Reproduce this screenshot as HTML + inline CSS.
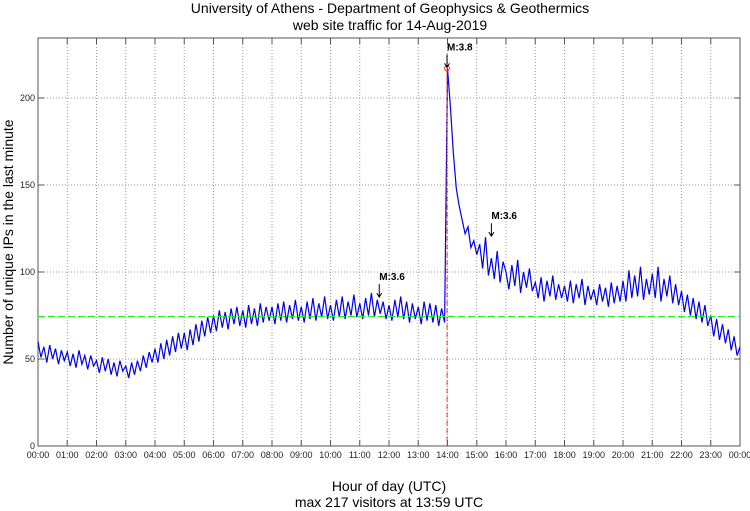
<!DOCTYPE html>
<html><head><meta charset="utf-8"><style>
body{margin:0;background:#fff;}
svg{display:block;font-family:"Liberation Sans",sans-serif;}
</style></head><body>
<svg id="chart" width="750" height="511">
<text x="390" y="13" font-size="14" text-anchor="middle">University of Athens - Department of Geophysics &amp; Geothermics</text>
<text x="390" y="30" font-size="14" text-anchor="middle">web site traffic for 14-Aug-2019</text>
<text transform="translate(13,242) rotate(-90)" font-size="14" text-anchor="middle">Number of unique IPs in the last minute</text>
<text x="389" y="491" font-size="14" text-anchor="middle">Hour of day (UTC)</text>
<text x="389" y="507" font-size="14" text-anchor="middle">max 217 visitors at 13:59 UTC</text>
<g id="grid"></g><g id="series"></g><g id="annot"></g>
</svg>
<script>
const hourLabels=["00:00","01:00","02:00","03:00","04:00","05:00","06:00","07:00","08:00","09:00","10:00","11:00","12:00","13:00","14:00","15:00","16:00","17:00","18:00","19:00","20:00","21:00","22:00","23:00","00:00"];
const yTicks=[0,50,100,150,200];
const meanLevel=75;
const peakMinute=839;
const peakValue=217;
const traffic=[
60,51,57,48,58,50,56,47,55,49,
54,46,53,45,55,47,52,44,52,46,
49,42,51,43,50,41,48,40,49,43,
46,39,48,41,49,43,52,45,54,48,
56,48,59,50,61,52,63,54,65,56,
65,55,67,58,70,60,72,63,74,65,
75,66,78,68,77,67,79,70,80,69,
78,68,81,70,79,69,82,71,80,72,
80,70,82,72,83,71,81,73,84,72,
80,71,83,73,85,72,82,74,86,73,
81,72,84,74,86,73,83,75,87,74,
82,73,85,75,88,74,84,76,83,73,
81,72,84,74,86,73,83,71,82,73,
80,70,83,72,82,71,81,69,79,71,
217,195,168,148,138,130,122,126,114,118,
110,116,102,120,98,108,96,112,94,106,
100,90,104,92,107,88,100,91,102,89,
94,85,97,83,95,86,98,84,93,85,
92,83,95,82,93,85,96,81,92,84,
90,81,93,83,91,80,94,82,92,83,
95,83,101,85,98,86,103,84,96,87,
99,85,103,83,96,86,98,82,93,81,
89,77,87,75,85,73,83,71,81,69,
75,63,73,61,70,59,67,55,63,52,
57];
const annotations=[{label:"M:3.8",minute:839,value:217},{label:"M:3.6",minute:700,value:85},{label:"M:3.6",minute:930,value:120}];
const L=38,R=740,T=38,B=446;
const xS=m=>L+(R-L)*m/1440;
const yS=v=>B-(B-98)*v/200;
const NS="http://www.w3.org/2000/svg";
function mk(t,a,p){const e=document.createElementNS(NS,t);for(const k in a)e.setAttribute(k,a[k]);p.appendChild(e);return e;}
const g=document.getElementById('grid');
hourLabels.forEach((h,i)=>{const x=xS(i*60);
 if(i>0&&i<24){const l=mk('line',{x1:x,x2:x,y1:T,y2:B,stroke:'#999','stroke-dasharray':'1,2'},g);}
 mk('line',{x1:x,x2:x,y1:B,y2:B-6,stroke:'#555'},g);mk('line',{x1:x,x2:x,y1:T,y2:T+6,stroke:'#555'},g);
 const t=mk('text',{x:x,y:B+12,'font-size':9,'text-anchor':'middle',fill:'#222'},g);t.textContent=h;
 });
yTicks.forEach(v=>{const y=yS(v);
 if(v>0){const l=mk('line',{x1:L,x2:R,y1:y,y2:y,stroke:'#999','stroke-dasharray':'1,2'},g);}
 mk('line',{x1:L,x2:L+6,y1:y,y2:y,stroke:'#555'},g);mk('line',{x1:R,x2:R-6,y1:y,y2:y,stroke:'#555'},g);
 const t=mk('text',{x:L-3,y:y+3,'font-size':9,'text-anchor':'end',fill:'#222'},g);t.textContent=v;
 });
const fr=mk('rect',{x:L,y:T,width:R-L,height:B-T,fill:'none',stroke:'#555'},g);

const s=document.getElementById('series');
const step=1440/(traffic.length-1);
const d=traffic.map((v,i)=>(i?'L':'M')+xS(i*step).toFixed(1)+','+yS(v).toFixed(1)).join('');
const p=mk('path',{d:d,fill:'none',stroke:'#0000ee','stroke-width':1.2},s);

const my=Math.round(yS(meanLevel))+0.5;
const ml=mk('line',{x1:L,x2:R,y1:my,y2:my,stroke:'#22ee22','stroke-width':1.3,'stroke-dasharray':'7,3','shape-rendering':'crispEdges'},s);

const pl=mk('line',{x1:xS(peakMinute),x2:xS(peakMinute),y1:yS(peakValue),y2:B,stroke:'#e33','stroke-dasharray':'5,3'},s);

const pc=mk('circle',{cx:xS(peakMinute),cy:yS(peakValue),r:2.5,fill:'none',stroke:'#e33'},s);

const a=document.getElementById('annot');
annotations.forEach(o=>{const x=xS(o.minute),y=yS(o.value);
 const t=mk('text',{x:x,y:y-18,'font-size':10,'font-weight':'bold'},a);t.textContent=o.label;
 
 const ar=mk('path',{d:'M'+x+','+(y-14)+'V'+(y-2)+'M'+(x-2.5)+','+(y-5)+'L'+x+','+(y-1)+'L'+(x+2.5)+','+(y-5),stroke:'#000',fill:'none','stroke-width':1},a);
 });
</script>
</body></html>
